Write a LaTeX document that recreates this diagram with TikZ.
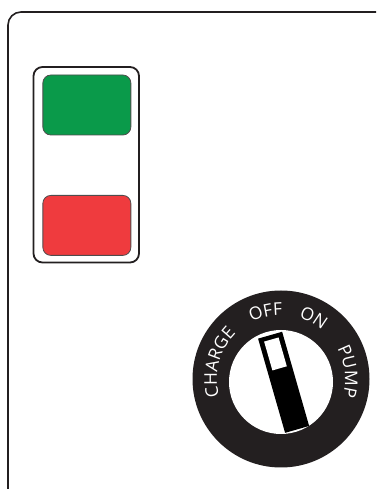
\documentclass[tikz,border=0pt]{standalone}
\usepackage{fontspec}
\newfontfamily\dialfont{Open Sans}
\usetikzlibrary{decorations.text}
\definecolor{inkblack}{HTML}{231F20}
\definecolor{lampgreen}{HTML}{0A9A4A}
\definecolor{lampred}{HTML}{EF3B3E}

\begin{document}
\begin{tikzpicture}[
        x=1pt, y=1pt,
        frame/.style={draw=inkblack, line width=1.6pt},
        lampbox/.style={draw=inkblack, line width=1.8pt, rounded corners=9pt, minimum width=105.5pt, minimum height=195.5pt},
        lamp/.style={draw=inkblack!80, line width=0.8pt, rounded corners=8pt, minimum width=88pt, minimum height=60pt},
        dialring/.style={circle, fill=inkblack, minimum size=177pt, inner sep=0pt},
        dialface/.style={circle, fill=white, minimum size=104pt, inner sep=0pt},
        leverbody/.style={fill=black, minimum width=25pt, minimum height=98pt, inner sep=0pt, rotate=16},
        leverwindow/.style={fill=white, minimum width=15pt, minimum height=30pt, inner sep=0pt, rotate=16},
        dialtext/.style={decorate, decoration={text along path, text align=center,
            text={|\dialfont\fontsize{17.5}{19}\selectfont\color{white}|#1}}},
    ]
    \useasboundingbox (0,0) rectangle (377,491);

    \draw[frame] (8,2) -- (8,466) arc[start angle=180, end angle=90, radius=13] -- (376,479);

    \node[lampbox] (lamps) at (86.25,326.25) {};
    \node[lamp, fill=lampgreen] (go) at (86.85,386) {};
    \node[lamp, fill=lampred] (stop) at (86.85,265.6) {};

    \coordinate (dial) at (281,112);
    \node[dialring] (ring) at (dial) {};
    \node[dialface] (face) at (281,109) {};
    \path[dialtext=CHARGE] ([shift={(200:64)}]dial) arc[start angle=200, end angle=130, radius=64];
    \path[dialtext=OFF] ([shift={(138:64)}]dial) arc[start angle=138, end angle=68, radius=64];
    \path[dialtext=ON] ([shift={(97:64)}]dial) arc[start angle=97, end angle=27, radius=64];
    \path[dialtext=PUMP] ([shift={(41.5:64)}]dial) arc[start angle=41.5, end angle=-28.5, radius=64];

    \node[leverbody] (lever) at (283.6,108.7) {};
    \node[leverwindow, anchor=north] (window) at ([shift={(-74:4.5)}]lever.north) {};

\end{tikzpicture}
\end{document}
